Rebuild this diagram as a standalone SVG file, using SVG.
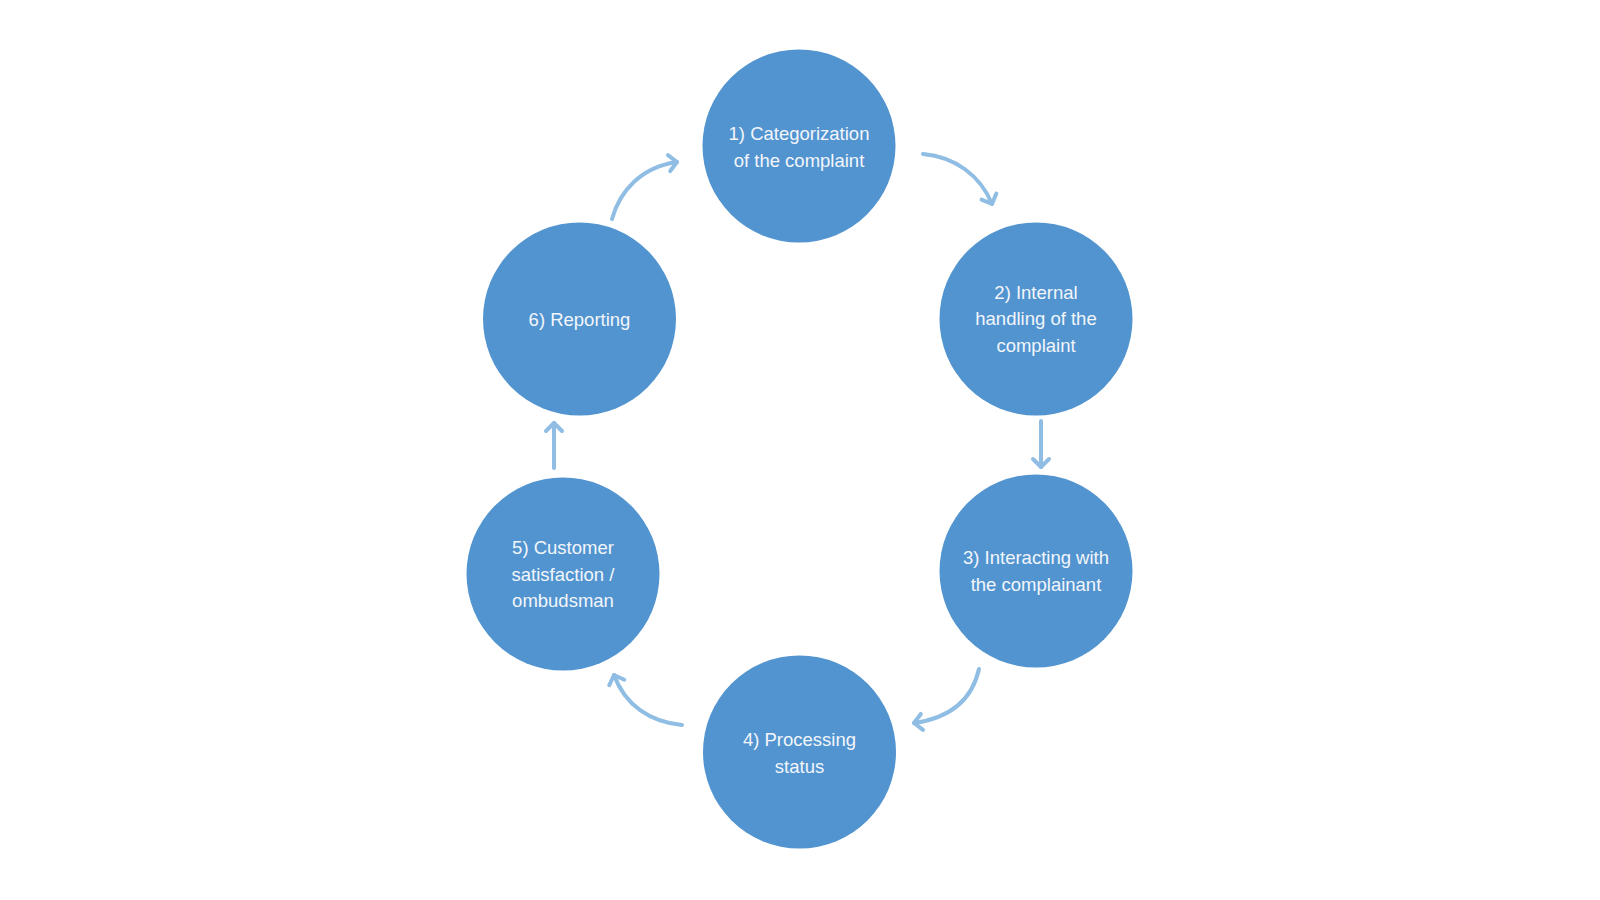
<svg xmlns="http://www.w3.org/2000/svg" width="1600" height="900" viewBox="0 0 1600 900">
<style>
.node circle{fill:#5294cf}
.node text{font-family:"Liberation Sans",Arial,sans-serif;font-size:18.5px;fill:#f2f6fb;text-anchor:middle}
.conn path{fill:none;stroke:#8fbde4;stroke-width:4;stroke-linecap:round}
</style>
<defs>
<marker id="ah" markerUnits="userSpaceOnUse" viewBox="-12 -12 16 24" refX="0" refY="0" markerWidth="16" markerHeight="24" orient="auto" overflow="visible">
<path d="M -8 -8 L 0 0 L -8 8" fill="none" stroke="#8fbde4" stroke-width="4" stroke-linecap="round" stroke-linejoin="round"/>
</marker>
</defs>
<rect width="1600" height="900" fill="#ffffff"/>
<g class="conn" id="connectors">
<path d="M 923 154 C 955 157, 980 175, 992 204" marker-end="url(#ah)"/>
<path d="M 1041 421 L 1041 467" marker-end="url(#ah)"/>
<path d="M 979 669 C 972 700, 950 718, 914 723" marker-end="url(#ah)"/>
<path d="M 682 725 C 650 722, 625 705, 614 675" marker-end="url(#ah)"/>
<path d="M 554 468 L 554 423" marker-end="url(#ah)"/>
<path d="M 612 219 C 620 190, 642 167, 677 162" marker-end="url(#ah)"/>
</g>
<g class="node" id="n1">
<circle cx="799" cy="146" r="96.5"/>
<text x="799" y="140">1) Categorization</text>
<text x="799" y="166.5">of the complaint</text>
</g>
<g class="node" id="n2">
<circle cx="1036" cy="319" r="96.5"/>
<text x="1036" y="298.5">2) Internal</text>
<text x="1036" y="325">handling of the</text>
<text x="1036" y="351.5">complaint</text>
</g>
<g class="node" id="n3">
<circle cx="1036" cy="571" r="96.5"/>
<text x="1036" y="564">3) Interacting with</text>
<text x="1036" y="590.5">the complainant</text>
</g>
<g class="node" id="n4">
<circle cx="799.5" cy="752" r="96.5"/>
<text x="799.5" y="746">4) Processing</text>
<text x="799.5" y="772.5">status</text>
</g>
<g class="node" id="n5">
<circle cx="563" cy="574" r="96.5"/>
<text x="563" y="554">5) Customer</text>
<text x="563" y="580.5">satisfaction /</text>
<text x="563" y="607">ombudsman</text>
</g>
<g class="node" id="n6">
<circle cx="579.5" cy="319" r="96.5"/>
<text x="579.5" y="325.5">6) Reporting</text>
</g>
</svg>
